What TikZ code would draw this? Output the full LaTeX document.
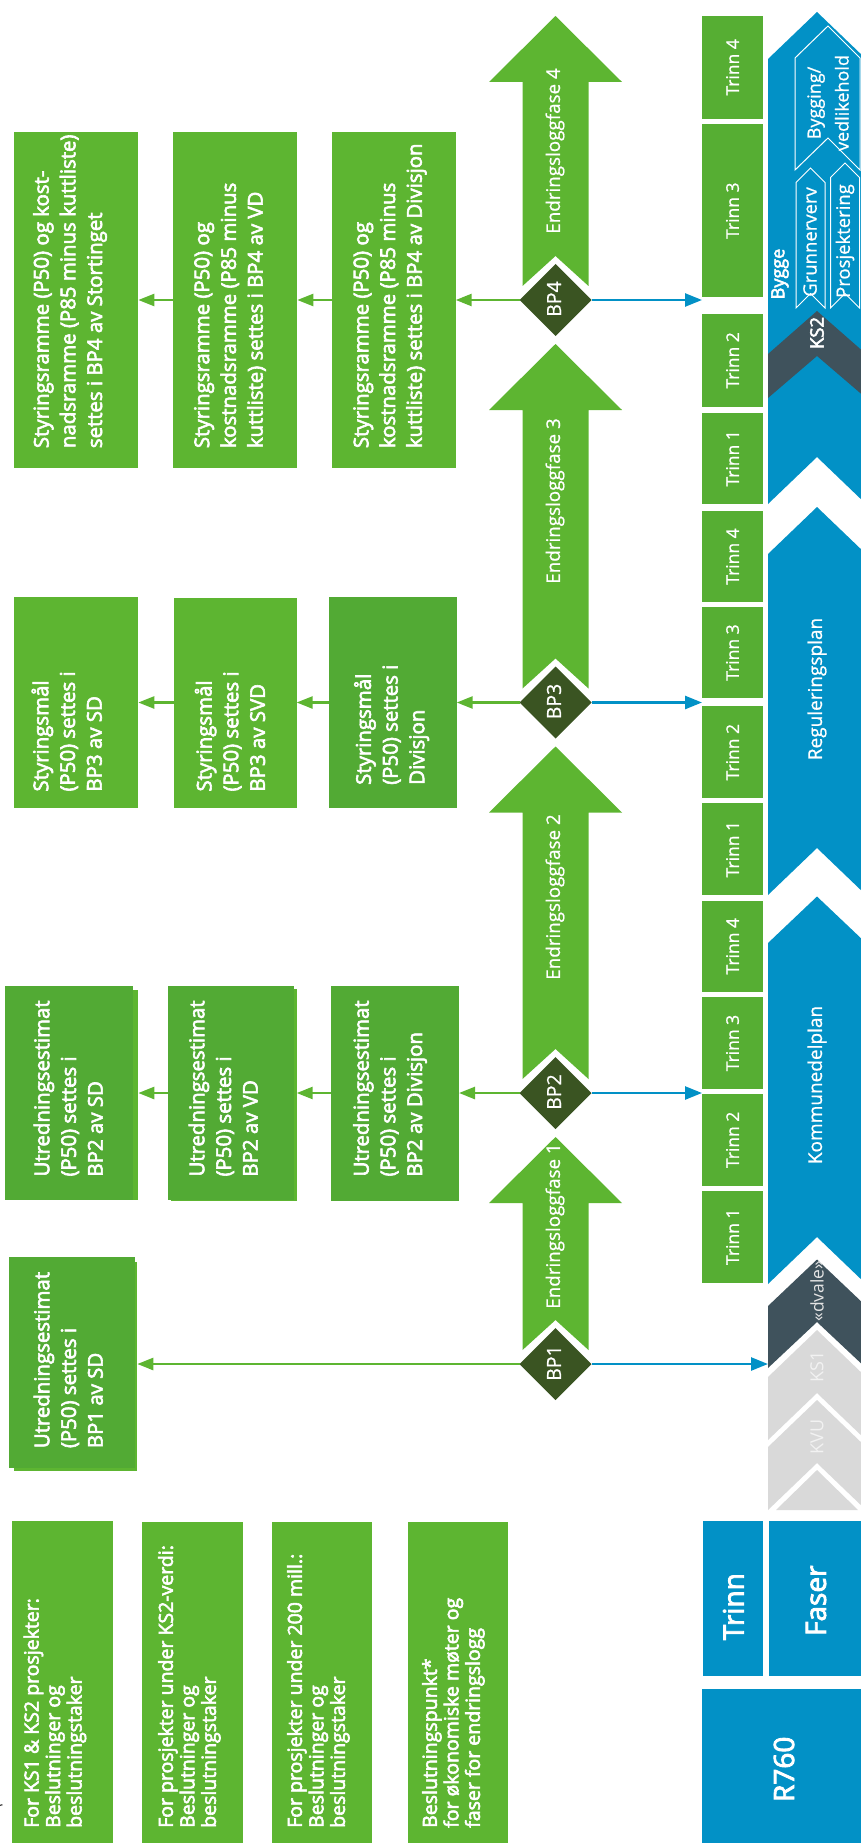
\documentclass[tikz,border=0pt]{standalone}
\usepackage{fontspec}
\setmainfont{Open Sans}[AutoFakeBold=3]
\newfontfamily\mediumface{Open Sans}[FakeBold=0.8]
\usetikzlibrary{shapes.geometric,arrows.meta}

\definecolor{boxgreen}{HTML}{5DB531}
\definecolor{deepgreen}{HTML}{52AA34}
\definecolor{stepgreen}{HTML}{56AE33}
\definecolor{bpgreen}{HTML}{3A5422}
\definecolor{phaseblue}{HTML}{0291C6}
\definecolor{slate}{HTML}{3F525C}
\definecolor{lightgrey}{HTML}{D9D9D9}
\definecolor{paletext}{HTML}{F2F2F2}

% phase chevron pointing up: colour, tip y, upper corner y, lower corner y, notch y
\newcommand\phasechevron[5]{%
  \fill[#1] (817,#2) -- (866,#3) -- (866,#4) -- (817,#5) -- (768,#4) -- (768,#3) -- cycle;}
% change-log arrow: tip y, decision point y
\newcommand\logarrow[2]{%
  \fill[boxgreen] (489,#1+66) -- (555.5,#1) -- (622,#1+66) -- (588.5,#1+66)
    -- (588.5,#2-14) -- (555.5,#2-44) -- (522.5,#2-14) -- (522.5,#1+66) -- cycle;}

\begin{document}
\begin{tikzpicture}[x=1pt,y=-1pt,
  panel/.style={fill=boxgreen, inner sep=0pt, outer sep=0pt},
  deeppanel/.style={fill=deepgreen, inner sep=0pt, outer sep=0pt},
  panelnote/.style={rotate=90, anchor=west, align=left, text=white, inner sep=0pt,
    font=\bfseries\fontsize{20.4}{26.7}\selectfont},
  legendnote/.style={rotate=90, anchor=west, align=left, text=white, inner sep=0pt,
    font=\bfseries\fontsize{19.5}{21.5}\selectfont},
  stepbox/.style={rotate=90, fill=stepgreen, minimum height=61pt, inner sep=0pt,
    text=white, font=\mediumface\fontsize{17.5}{22}\selectfont},
  headbox/.style={fill=phaseblue, inner sep=0pt, outer sep=0pt},
  bigword/.style={rotate=90, text=white, inner sep=0pt, font=\bfseries\fontsize{28}{32}\selectfont},
  bpmark/.style={diamond, aspect=1, fill=bpgreen, minimum width=72pt, minimum height=72pt,
    inner sep=0pt, outer sep=0pt},
  bplabel/.style={rotate=90, text=white, inner sep=0pt, font=\mediumface\fontsize{19.5}{22}\selectfont},
  loglabel/.style={rotate=90, text=white, inner sep=0pt, font=\mediumface\fontsize{18.8}{22}\selectfont},
  phaselabel/.style={rotate=90, text=white, inner sep=0pt, font=\mediumface\fontsize{18.5}{22}\selectfont},
  gconn/.style={draw=boxgreen, line width=2.5pt, -{Triangle[length=16pt,width=12pt]}},
  bconn/.style={draw=phaseblue, line width=2.5pt, -{Triangle[length=17pt,width=13pt]}}]

\useasboundingbox (0,0) rectangle (861,1843);
\clip (0,0) rectangle (861,1843);

% ---------------- phase column ----------------
\phasechevron{phaseblue}{12}{59}{504}{457}
\phasechevron{slate}{311}{354}{398}{356}
\phasechevron{phaseblue}{507}{554}{895}{848}
\phasechevron{phaseblue}{896.5}{943}{1284}{1237}
\phasechevron{slate}{1259.5}{1306}{1368}{1322}
\phasechevron{lightgrey}{1330}{1377}{1440}{1393}
\phasechevron{lightgrey}{1400}{1447}{1510}{1463}
\fill[lightgrey] (817,1470) -- (858,1510) -- (776,1510) -- cycle;

% sub-phases inside the build phase
\draw[white, line width=1pt] (828,26) -- (860,58) -- (860,170) -- (828,138) -- (795,170) -- (795,58) -- cycle;
\draw[white, line width=1pt] (810.5,168) -- (825,182.5) -- (825,308) -- (810.5,293.5) -- (796,308) -- (796,182.5) -- cycle;
\draw[white, line width=1pt] (845,163) -- (859.5,177.5) -- (859.5,308) -- (845,293.5) -- (830.5,308) -- (830.5,177.5) -- cycle;

\node[phaselabel, align=center, font=\mediumface\fontsize{18}{28}\selectfont] (ph-bv) at (828,103) {Bygging/\\vedlikehold};
\node[phaselabel] (ph-gr) at (810,242) {Grunnerverv};
\node[phaselabel] (ph-pr) at (845,241) {Prosjektering};
\node[phaselabel, font=\bfseries\fontsize{18}{22}\selectfont] (ph-by) at (780,274) {Bygge};
\node[phaselabel, font=\bfseries\fontsize{18.5}{22}\selectfont] (ph-ks2) at (817,333) {KS2};
\node[phaselabel, font=\mediumface\fontsize{19}{22}\selectfont] (ph-rp) at (817,689) {Reguleringsplan};
\node[phaselabel, font=\mediumface\fontsize{19}{22}\selectfont] (ph-kp) at (817,1085) {Kommunedelplan};
\node[phaselabel, text=lightgrey!70!white, font=\fontsize{17.5}{20}\selectfont] (ph-dv) at (817,1291) {«dvale»};
\node[phaselabel, text=paletext, font=\fontsize{18}{20}\selectfont] (ph-ks1) at (817,1367) {KS1};
\node[phaselabel, text=paletext, font=\fontsize{18}{20}\selectfont] (ph-kvu) at (817,1437) {KVU};

% ---------------- step column ----------------
\node[stepbox, minimum width=103.3pt] (s1-4) at (732.5,67.35) {Trinn 4};
\node[stepbox, minimum width=173.3pt] (s1-3) at (732.5,210.65) {Trinn 3};
\node[stepbox, minimum width=92.7pt] (s1-2) at (732.5,360.35) {Trinn 2};
\node[stepbox, minimum width=91.3pt] (s1-1) at (732.5,458.35) {Trinn 1};
\node[stepbox, minimum width=91.6pt] (s2-4) at (732.5,556.5) {Trinn 4};
\node[stepbox, minimum width=91.6pt] (s2-3) at (732.5,652.5) {Trinn 3};
\node[stepbox, minimum width=92.3pt] (s2-2) at (732.5,752.15) {Trinn 2};
\node[stepbox, minimum width=91.7pt] (s2-1) at (732.5,849.15) {Trinn 1};
\node[stepbox, minimum width=91pt] (s3-4) at (732.5,946.2) {Trinn 4};
\node[stepbox, minimum width=92.6pt] (s3-3) at (732.5,1043) {Trinn 3};
\node[stepbox, minimum width=91.7pt] (s3-2) at (732.5,1139.85) {Trinn 2};
\node[stepbox, minimum width=92pt] (s3-1) at (732.5,1236.7) {Trinn 1};

% ---------------- headings ----------------
\node[headbox, minimum width=60pt, minimum height=154.7pt] (hd-trinn) at (732.7,1598.35) {};
\node[headbox, minimum width=96pt, minimum height=154.7pt] (hd-faser) at (817,1598.35) {};
\node[headbox, minimum width=163pt, minimum height=160pt] (hd-r760) at (783.5,1769) {};
\node[bigword] (tx-trinn) at (733.3,1606.7) {Trinn};
\node[bigword] (tx-faser) at (816,1600.7) {Faser};
\node[bigword] (tx-r760) at (784,1769.3) {R760};

% ---------------- change-log arrows ----------------
\logarrow{16}{300}
\logarrow{344}{702.5}
\logarrow{746.5}{1093}
\logarrow{1137}{1364}
\node[loglabel] (lg4) at (555,151) {Endringsloggfase 4};
\node[loglabel] (lg3) at (555,501) {Endringsloggfase 3};
\node[loglabel] (lg2) at (555,897) {Endringsloggfase 2};
\node[loglabel] (lg1) at (555,1226) {Endringsloggfase 1};

% ---------------- decision points ----------------
\node[bpmark] (bp4) at (555.5,300) {};
\node[bpmark] (bp3) at (555.5,702.5) {};
\node[bpmark] (bp2) at (555.5,1093) {};
\node[bpmark] (bp1) at (555.5,1364) {};
\node[bplabel] (bp4t) at (554,299) {BP4};
\node[bplabel] (bp3t) at (554,701.5) {BP3};
\node[bplabel] (bp2t) at (554,1092) {BP2};
\node[bplabel] (bp1t) at (554,1363) {BP1};

% ---------------- decision boxes, BP4 ----------------
\node[panel, minimum width=124pt, minimum height=335pt] (boxA) at (76.3,300) {};
\node[panel, minimum width=124pt, minimum height=335pt] (boxB) at (235.3,300) {};
\node[panel, minimum width=123.4pt, minimum height=335pt] (boxC) at (394,300) {};
\node[panelnote] (txA) at (70,448.3) {Styringsramme (P50) og kost-\\nadsramme (P85 minus kuttliste)\\settes i BP4 av Stortinget};
\node[panelnote] (txB) at (230,448.3) {Styringsramme (P50) og\\kostnadsramme (P85 minus\\kuttliste) settes i BP4 av VD};
\node[panelnote] (txC) at (390,448.3) {Styringsramme (P50) og\\kostnadsramme (P85 minus\\kuttliste) settes i BP4 av Divisjon};

% ---------------- decision boxes, BP3 ----------------
\node[panel, minimum width=124pt, minimum height=211pt] (boxD) at (76.3,702.5) {};
\node[panel, minimum width=122.7pt, minimum height=210pt] (boxE) at (235.3,702.5) {};
\node[deeppanel, minimum width=127.4pt, minimum height=211.3pt] (boxF) at (393,702.5) {};
\node[panelnote] (txD) at (66.7,791.7) {Styringsmål\\(P50) settes i\\BP3 av SD};
\node[panelnote] (txE) at (230,791.7) {Styringsmål\\(P50) settes i\\BP3 av SVD};
\node[panelnote] (txF) at (391.7,785) {Styringsmål\\(P50) settes i\\Divisjon};

% ---------------- decision boxes, BP2 ----------------
\node[panel, minimum width=128.3pt, minimum height=210pt] (gsh) at (74.15,1095) {};
\node[deeppanel, minimum width=127.7pt, minimum height=214pt] (boxG) at (68.85,1093) {};
\node[panel, minimum width=125.7pt, minimum height=212pt] (hsh) at (233.85,1095) {};
\node[deeppanel, minimum width=125.7pt, minimum height=214pt] (boxH) at (231.15,1093) {};
\node[deeppanel, minimum width=128pt, minimum height=215pt] (boxI) at (395,1093) {};
\node[panelnote] (txG) at (68.3,1176.7) {Utredningsestimat\\(P50) settes i\\BP2 av SD};
\node[panelnote] (txH) at (223.3,1176.7) {Utredningsestimat\\(P50) settes i\\BP2 av VD};
\node[panelnote] (txI) at (390,1176.7) {Utredningsestimat\\(P50) settes i\\BP2 av Divisjon};

% ---------------- decision box, BP1 ----------------
\node[panel, minimum width=123.3pt, minimum height=209.4pt] (jsh) at (75.65,1366.4) {};
\node[deeppanel, minimum width=125.7pt, minimum height=211pt] (boxJ) at (71.85,1362.7) {};
\node[panelnote] (txJ) at (68.3,1448.3) {Utredningsestimat\\(P50) settes i\\BP1 av SD};

% ---------------- legend ----------------
\node[panel, minimum width=101.6pt, minimum height=329pt] (lg-a) at (62.5,1685.5) {};
\node[panel, minimum width=100.7pt, minimum height=329pt] (lg-b) at (192.35,1686.5) {};
\node[panel, minimum width=100.3pt, minimum height=329pt] (lg-c) at (322.15,1686.5) {};
\node[panel, minimum width=100pt, minimum height=329pt] (lg-d) at (457.7,1686.5) {};
\node[legendnote] (lt-a) at (55,1828) {For KS1 \& KS2 prosjekter:\\Beslutninger og\\beslutningstaker};
\node[legendnote] (lt-b) at (189.3,1828) {For prosjekter under KS2-verdi:\\Beslutninger og\\beslutningstaker};
\node[legendnote] (lt-c) at (318.3,1828) {For prosjekter under 200 mill.:\\Beslutninger og\\beslutningstaker};
\node[legendnote] (lt-d) at (453.3,1828) {Beslutningspunkt*\\for økonomiske møter og\\faser for endringslogg};
\node[anchor=east, inner sep=0pt, font=\fontsize{14}{14}\selectfont] (stray) at (3,1809) {r};

% ---------------- connectors ----------------
\coordinate (hit4) at (702,300);
\coordinate (hit3) at (702,702.5);
\coordinate (hit2) at (702,1093);
\coordinate (hit1) at (768,1364);
\draw[bconn] (bp4.east) -- (hit4);
\draw[bconn] (bp3.east) -- (hit3);
\draw[bconn] (bp2.east) -- (hit2);
\draw[bconn] (bp1.east) -- (hit1);

\draw[gconn] (bp4.west) -- (bp4.west -| boxC.east);
\draw[gconn] (boxC.west) -- (boxC.west -| boxB.east);
\draw[gconn] (boxB.west) -- (boxB.west -| boxA.east);

\draw[gconn] (bp3.west) -- (bp3.west -| boxF.east);
\draw[gconn] (boxF.west) -- (boxF.west -| boxE.east);
\draw[gconn] (boxE.west) -- (boxE.west -| boxD.east);

\draw[gconn] (bp2.west) -- (bp2.west -| boxI.east);
\draw[gconn] (boxI.west) -- (boxI.west -| hsh.east);
\draw[gconn] (boxH.west) -- (boxH.west -| gsh.east);

\draw[gconn] (bp1.west) -- (bp1.west -| jsh.east);

\end{tikzpicture}
\end{document}
